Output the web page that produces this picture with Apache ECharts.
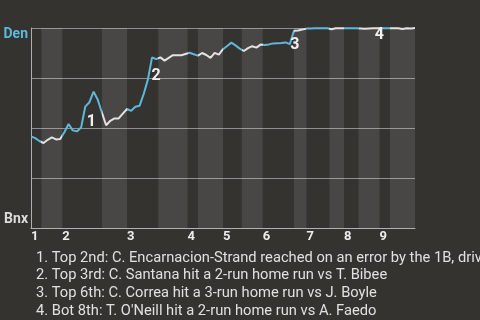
<!DOCTYPE html>
<html>
<head>
<meta charset="utf-8">
<script src="https://cdn.jsdelivr.net/npm/echarts@6/dist/echarts.min.js"></script>
<style>html,body{margin:0;padding:0;background:#353330;}#c{width:480px;height:320px;}</style>
</head>
<body>
<div id="c"></div>
<script>
// Den win probability (%) after each plate appearance
const wp = [45.8,44.9,43.5,42.5,44.1,45.3,44.3,44.5,47.9,52.0,48.8,48.3,50.2,60.7,62.9,68.2,64.1,57.6,51.4,53.6,
  54.8,54.8,57.2,59.5,58.6,60.6,61.1,67.0,74.2,85.3,84.4,85.3,83.7,85.1,86.4,86.4,86.4,87.0,87.6,86.9,
  86.2,87.5,86.5,85.1,87.6,86.7,89.4,91.0,92.7,91.3,89.7,88.5,89.9,90.9,90.2,91.7,91.5,91.8,92.3,92.4,
  92.5,92.8,91.9,98.6,98.8,99.2,99.7,99.8,
  99.9,99.9,99.9,99.9,99.4,99.9,99.9,99.9,99.9,99.9,99.9,99.8,99.6,99.8,99.9,99.9,99.9,99.9,99.9,99.9,
  99.9,99.5,99.9,99.7,100];
// half-inning boundaries (in plate-appearance index units): T1,B1,T2,B2,...,B9
const halfEdges = [0,2.5,7.5,17,23,30.5,37.5,40,46,50.5,55.5,63,66,71.5,75,78.5,83.5,86,92];
const inningLabels = ['1','2','3','4','5','6','7','8','9'];
const teamTop = 'Den';
const teamBottom = 'Bnx';
const eventIdx = [13, 29, 63, 82];
const eventLabels = ['1','2','3','4'];
const notes = [
  '1. Top 2nd: C. Encarnacion-Strand reached on an error by the 1B, driving in a run',
  '2. Top 3rd: C. Santana hit a 2-run home run vs T. Bibee',
  '3. Top 6th: C. Correa hit a 3-run home run vs J. Boyle',
  '4. Bot 8th: T. O\'Neill hit a 2-run home run vs A. Faedo'
];

const BLUE = '#5cb9db', WHITE = '#e2e2e2';
const labelOffsets = [[6,15],[4,19],[1,14],[6,7]];

const inningStarts = halfEdges.filter((e,i)=> i%2===0 && i<halfEdges.length-1);
const pieces = [];
const bands = [];
for (let k=0;k<halfEdges.length-1;k++){
  const p = {gte: halfEdges[k], color: k%2===0 ? BLUE : WHITE};
  if (k<halfEdges.length-2) p.lt = halfEdges[k+1]; else p.lte = halfEdges[k+1];
  pieces.push(p);
  if (k%2===1) bands.push([{xAxis: halfEdges[k]},{xAxis: halfEdges[k+1]}]);
}

const chart = echarts.init(document.getElementById('c'), null, {renderer:'canvas'});
chart.setOption({
  backgroundColor: '#353330',
  animation: false,
  title: {
    text: notes.join('\n'),
    left: 31, top: 244,
    textStyle: {color:'#e0e0e0', fontSize:14.7, fontWeight:'normal', fontFamily:'Roboto', lineHeight:17.8}
  },
  grid: {left:31, right:65, top:28, bottom:92},
  xAxis: {
    type:'value', min:0, max:halfEdges[halfEdges.length-1],
    axisLine:{show:true, lineStyle:{color:'#b0b0b0', width:1}},
    axisTick:{show:false},
    splitLine:{show:false},
    axisLabel:{
      customValues: inningStarts,
      formatter: v => inningLabels[inningStarts.indexOf(v)] || '',
      align:'left', margin:2, color:'#ececec', fontSize:13, fontWeight:'bold', fontFamily:'Roboto'
    }
  },
  yAxis: {
    type:'value', min:0, max:100, interval:25,
    axisLine:{show:true, lineStyle:{color:'#b0b0b0', width:1}},
    axisTick:{show:false},
    splitLine:{show:true, lineStyle:{color:'#8e8e8e', width:1}},
    axisLabel:{
      customValues:[0,100],
      margin:3,
      formatter: v => v===100 ? '{d|'+teamTop+'}' : '{b|'+teamBottom+'}',
      rich:{
        d:{color:BLUE, fontSize:14, fontWeight:'bold', fontFamily:'Roboto', padding:[12,0,0,0]},
        b:{color:'#dcdcdc', fontSize:14, fontWeight:'bold', fontFamily:'Roboto', padding:[0,0,18,0]}
      }
    }
  },
  visualMap: {show:false, type:'piecewise', dimension:0, seriesIndex:0, pieces: pieces},
  series: [{
    type:'line',
    data: wp.map((v,i)=>[i,v]),
    showSymbol:false,
    lineStyle:{width:2},
    markArea:{silent:true, itemStyle:{color:'rgba(255,255,255,0.10)'}, data: bands},
    markPoint:{
      symbol:'circle', symbolSize:0,
      label:{show:true, color:'#f0f0f0', fontSize:16, fontWeight:'bold', fontFamily:'Roboto', position:'inside'},
      data: eventIdx.map((idx,j)=>({
        coord:[idx, wp[idx]], value: eventLabels[j],
        label:{formatter: eventLabels[j], offset: labelOffsets[j]}
      }))
    }
  }]
});
</script>
</body>
</html>
